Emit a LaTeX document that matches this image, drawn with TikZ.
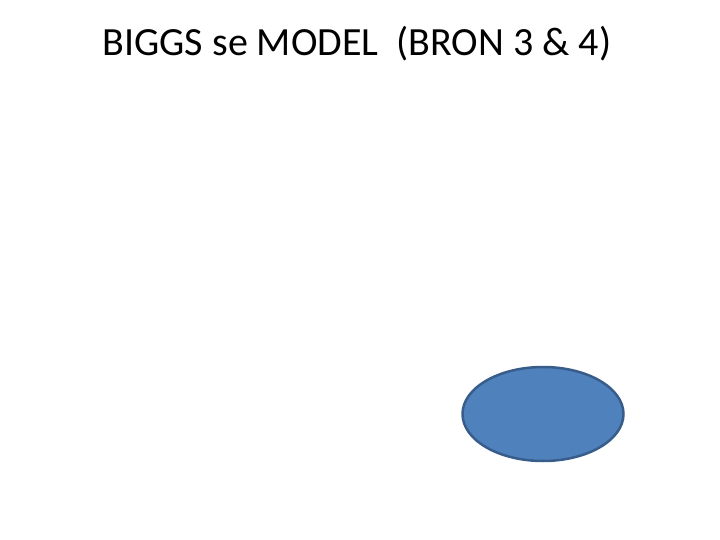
\documentclass[tikz,border=0pt]{standalone}
\usepackage{fontspec}
\setmainfont{Carlito}
\usetikzlibrary{shapes.geometric}
\definecolor{ovalfill}{HTML}{4F81BD}
\definecolor{ovalline}{HTML}{385D8A}
\tikzset{
  titletext/.style={anchor=base, inner sep=0pt, font=\fontsize{40}{48}\selectfont},
  oval/.style={ellipse, draw=ovalline, fill=ovalfill, line width=2.5pt, minimum width=161pt, minimum height=94pt, inner sep=0pt}
}
\begin{document}
\begin{tikzpicture}[x=1pt,y=-1pt]
\useasboundingbox (0,0) rectangle (720,540);
\node[titletext] (title) at (357,56) {BIGGS se MODEL\ \ (BRON 3 \& 4)};
\node[oval] (shape) at (543,414) {};
\end{tikzpicture}
\end{document}
